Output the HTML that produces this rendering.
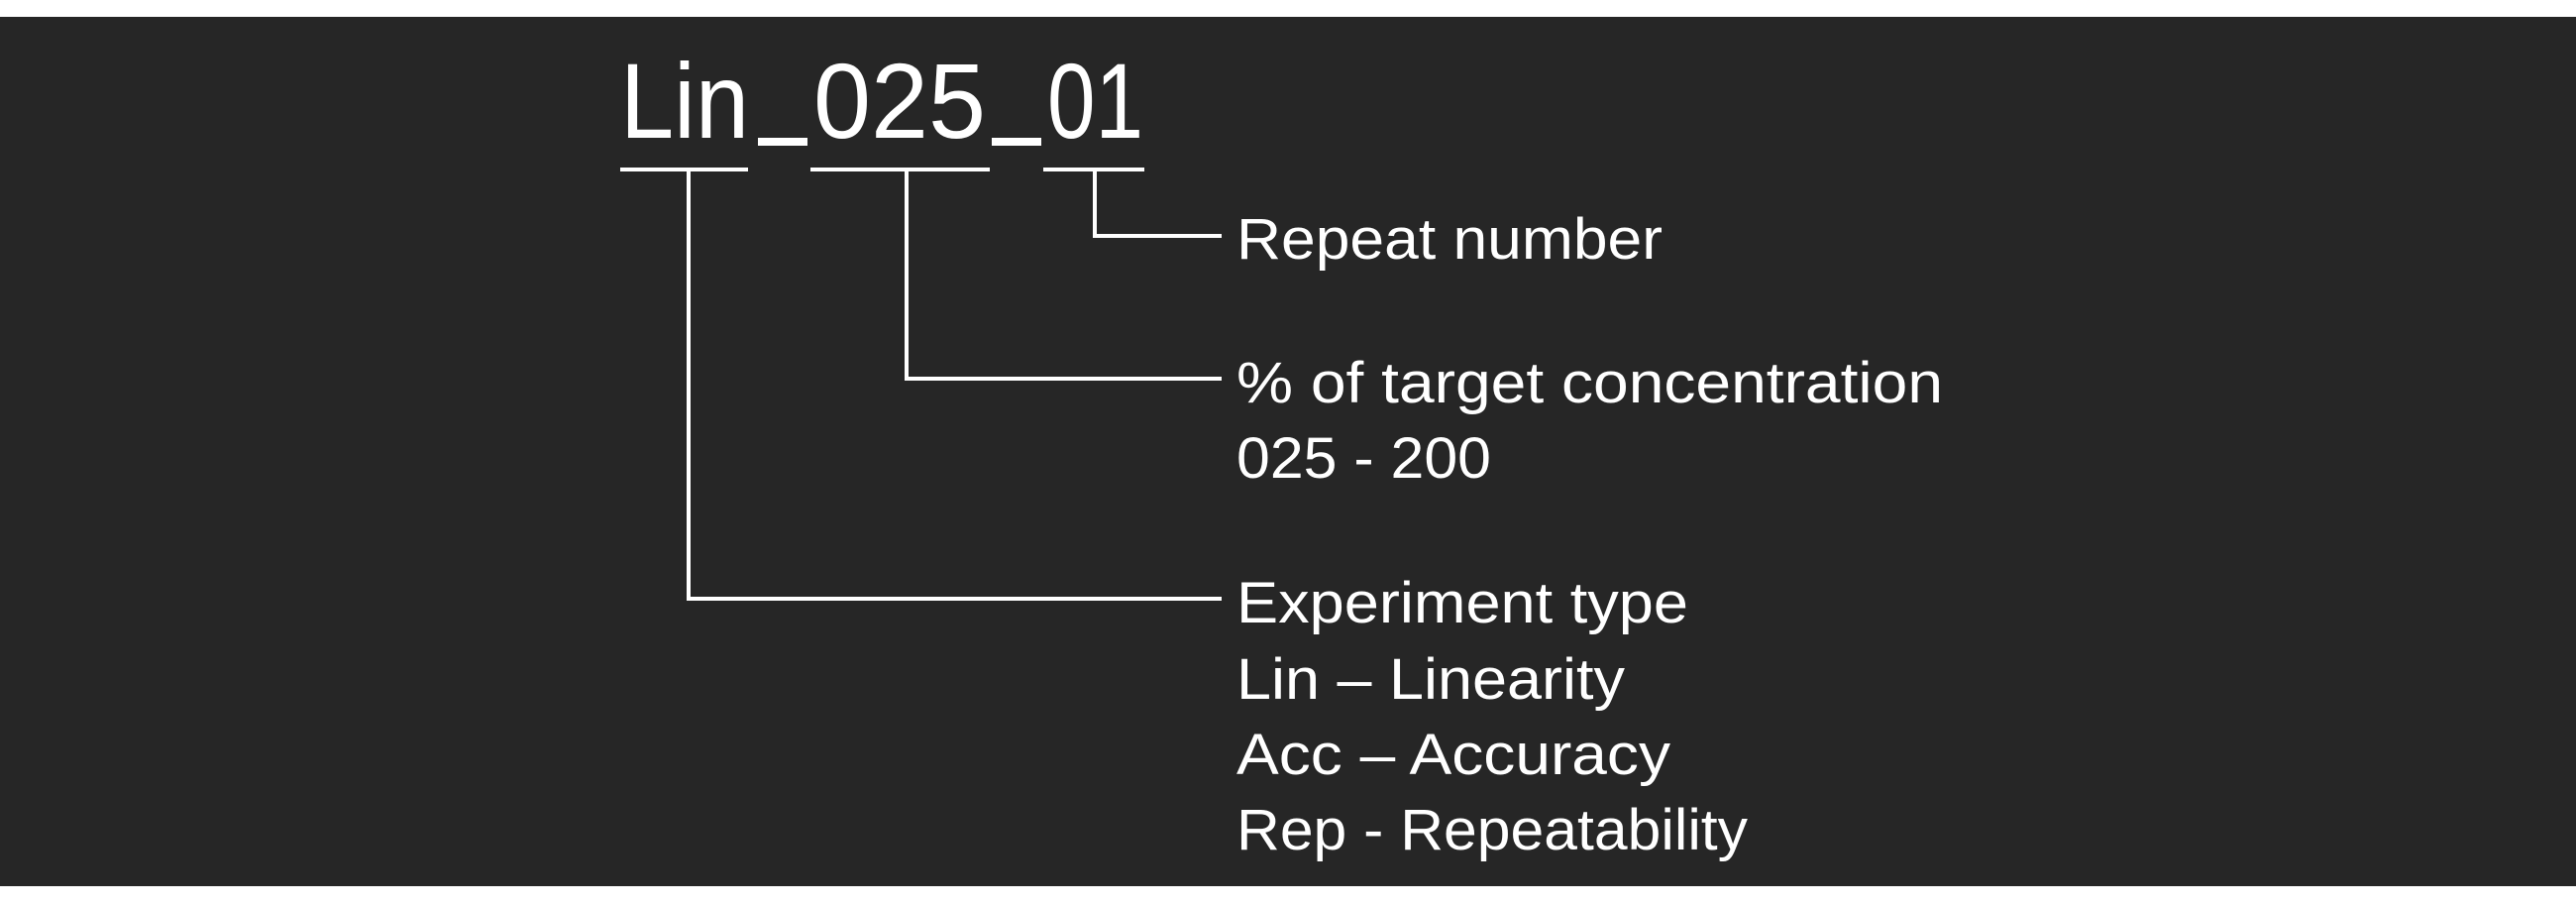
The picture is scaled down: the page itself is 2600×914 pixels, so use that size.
<!DOCTYPE html>
<html><head><meta charset="utf-8"><style>
html,body{margin:0;padding:0;background:#fff;}
svg{display:block;}
</style></head><body>
<svg width="2600" height="914" viewBox="0 0 2600 914" xmlns="http://www.w3.org/2000/svg">
<rect x="0" y="0" width="2600" height="914" fill="#fff"/>
<rect x="0" y="17" width="2600" height="877" fill="#262626"/>
<g font-family="Liberation Sans, sans-serif" fill="#fff">
<text x="626" y="139" font-size="108" textLength="130" lengthAdjust="spacingAndGlyphs">Lin</text>
<rect x="765" y="139" width="50" height="8"/>
<text x="821" y="139" font-size="108" textLength="174" lengthAdjust="spacingAndGlyphs">025</text>
<rect x="1001" y="139" width="50" height="8"/>
<text x="1057" y="139" font-size="108" textLength="97" lengthAdjust="spacingAndGlyphs">01</text>
<text x="1248" y="261" font-size="58" textLength="430" lengthAdjust="spacingAndGlyphs">Repeat number</text>
<text x="1248" y="406" font-size="58" textLength="713" lengthAdjust="spacingAndGlyphs">% of target concentration</text>
<text x="1248" y="482" font-size="58" textLength="257" lengthAdjust="spacingAndGlyphs">025 - 200</text>
<text x="1248" y="628" font-size="58" textLength="456" lengthAdjust="spacingAndGlyphs">Experiment type</text>
<text x="1248" y="705" font-size="58" textLength="392" lengthAdjust="spacingAndGlyphs">Lin – Linearity</text>
<text x="1248" y="781" font-size="58" textLength="438" lengthAdjust="spacingAndGlyphs">Acc – Accuracy</text>
<text x="1248" y="857" font-size="58" textLength="516" lengthAdjust="spacingAndGlyphs">Rep - Repeatability</text>
</g>
<g stroke="#fff" stroke-width="4" fill="none">
<line x1="626" y1="171" x2="755" y2="171"/>
<line x1="818" y1="171" x2="999" y2="171"/>
<line x1="1053" y1="171" x2="1155" y2="171"/>
<polyline points="1105,171 1105,238 1233,238"/>
<polyline points="915,171 915,382 1233,382"/>
<polyline points="695,171 695,604 1233,604"/>
</g>
</svg>
</body></html>
